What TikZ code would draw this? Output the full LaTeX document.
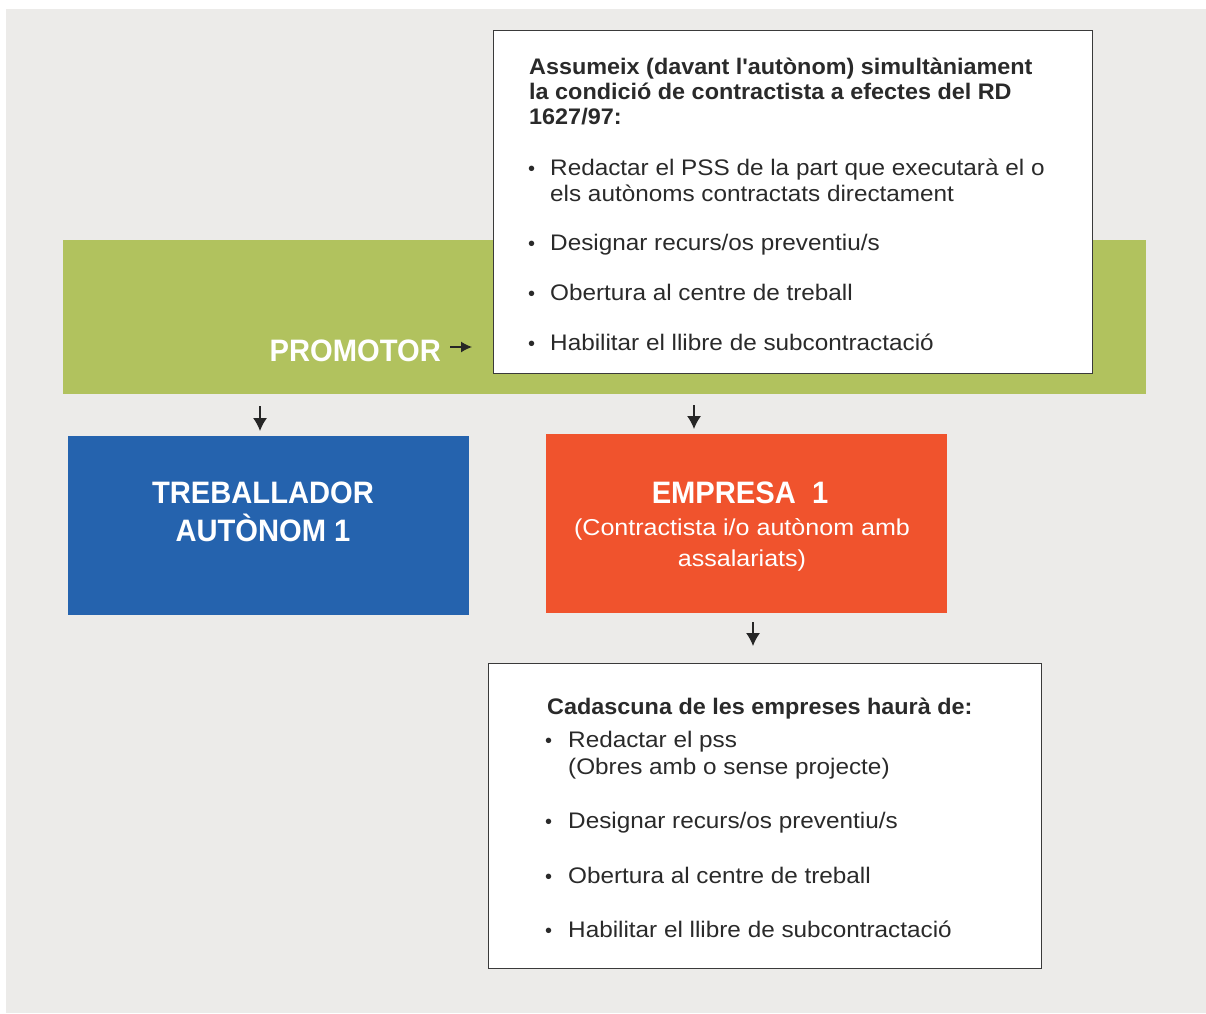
\documentclass[tikz,border=0pt]{standalone}
\usepackage{fontspec}
\setmainfont{Liberation Sans}
\newfontfamily\regfam[FakeStretch=1.08]{Liberation Sans}
\newfontfamily\boldfam[FakeStretch=1.04]{Liberation Sans Bold}
\newfontfamily\bigfam[FakeStretch=0.94]{Liberation Sans Bold}
\newfontfamily\subfam[FakeStretch=1.09]{Liberation Sans}
\usetikzlibrary{arrows.meta}
\definecolor{bggray}{HTML}{ECEBE9}
\definecolor{bandgreen}{HTML}{B1C25E}
\definecolor{boxblue}{HTML}{2563AE}
\definecolor{boxorange}{HTML}{F0532D}
\definecolor{txt}{HTML}{2A2A2A}
\definecolor{frame}{HTML}{3A3A3A}
\tikzset{
  panel/.style={draw=frame, line width=1pt, fill=white, anchor=north west, inner sep=0pt},
  colbox/.style={anchor=north west, inner sep=0pt, draw=none},
  head/.style={anchor=base west, inner sep=0pt, text=txt, font=\boldfam\fontsize{22.5}{25}\selectfont},
  item/.style={anchor=base west, inner sep=0pt, text=txt, font=\regfam\fontsize{22.5}{25}\selectfont},
  bul/.style={anchor=base west, inner sep=0pt, text=txt, font=\fontsize{20}{20}\selectfont},
  bigw/.style={inner sep=0pt, text=white, font=\bigfam\fontsize{31}{38}\selectfont, align=center},
  arr/.style={draw=black!85, line width=1.3pt, -{Latex[length=13pt,width=14pt]}}
}
\begin{document}
\begin{tikzpicture}[x=1pt,y=-1pt]
\useasboundingbox (0,0) rectangle (1206,1013);
\fill[bggray] (6,9) rectangle (1206,1013);
% green band
\node[colbox, fill=bandgreen, minimum width=1083, minimum height=154] (band) at (63,240) {};
% top panel
\node[panel, minimum width=599, minimum height=343] (toppanel) at (493,30) {};
\node[head] (h1) at (529,74) {Assumeix (davant l\textquotesingle autònom) simultàniament};
\node[head] (h2) at (529,99) {la condició de contractista a efectes del RD};
\node[head] (h3) at (529,124) {1627/97:};
\node[bul] (b1) at (528,175) {\textbullet};
\node[item] (t1a) at (550,175) {Redactar el PSS de la part que executarà el o};
\node[item] (t1b) at (550,201) {els autònoms contractats directament};
\node[bul] (b2) at (528,250) {\textbullet};
\node[item] (t2) at (550,250) {Designar recurs/os preventiu/s};
\node[bul] (b3) at (528,300) {\textbullet};
\node[item] (t3) at (550,300) {Obertura al centre de treball};
\node[bul] (b4) at (528,350) {\textbullet};
\node[item] (t4) at (550,350) {Habilitar el llibre de subcontractació};
% promotor
\node[anchor=base east, inner sep=0pt, text=white, font=\bigfam\fontsize{31}{36}\selectfont] (prom) at (441,361) {PROMOTOR};
\coordinate (promstart) at (450,347);
\coordinate (promend) at (472,347);
\draw[arr, -{Latex[length=11pt,width=11pt]}] (promstart) -- (promend);
% blue box
\node[colbox, fill=boxblue, minimum width=401, minimum height=179] (blue) at (68,436) {};
\node[bigw] (blueT) at (263,512) {TREBALLADOR\\AUTÒNOM 1};
% orange box
\node[colbox, fill=boxorange, minimum width=401, minimum height=179] (orange) at (546,434) {};
\node[inner sep=0pt, text=white, font=\bigfam\fontsize{31}{36}\selectfont, anchor=base] (orT) at (740,503) {EMPRESA\ \ 1};
\node[inner sep=0pt, text=white, font=\subfam\fontsize{23}{31}\selectfont, align=center, anchor=north] (orS) at (742,518) {(Contractista i/o autònom amb\\assalariats)};
% arrows down
\coordinate (a1s) at (260,406);
\coordinate (a1e) at (260,431);
\draw[arr] (a1s) -- (a1e);
\coordinate (a2s) at (694,405);
\coordinate (a2e) at (694,429);
\draw[arr] (a2s) -- (a2e);
% bottom panel
\node[panel, minimum width=553, minimum height=305] (botpanel) at (488,663) {};
\coordinate (a3s) at (753,622);
\coordinate (a3e) at (753,646);
\draw[arr] (a3s) -- (a3e);
\node[head] (bh) at (547,714) {Cadascuna de les empreses haurà de:};
\node[bul] (bb1) at (545,747) {\textbullet};
\node[item] (bt1a) at (568,747) {Redactar el pss};
\node[item] (bt1b) at (568,774) {(Obres amb o sense projecte)};
\node[bul] (bb2) at (545,828) {\textbullet};
\node[item] (bt2) at (568,828) {Designar recurs/os preventiu/s};
\node[bul] (bb3) at (545,883) {\textbullet};
\node[item] (bt3) at (568,883) {Obertura al centre de treball};
\node[bul] (bb4) at (545,937) {\textbullet};
\node[item] (bt4) at (568,937) {Habilitar el llibre de subcontractació};
\end{tikzpicture}
\end{document}
